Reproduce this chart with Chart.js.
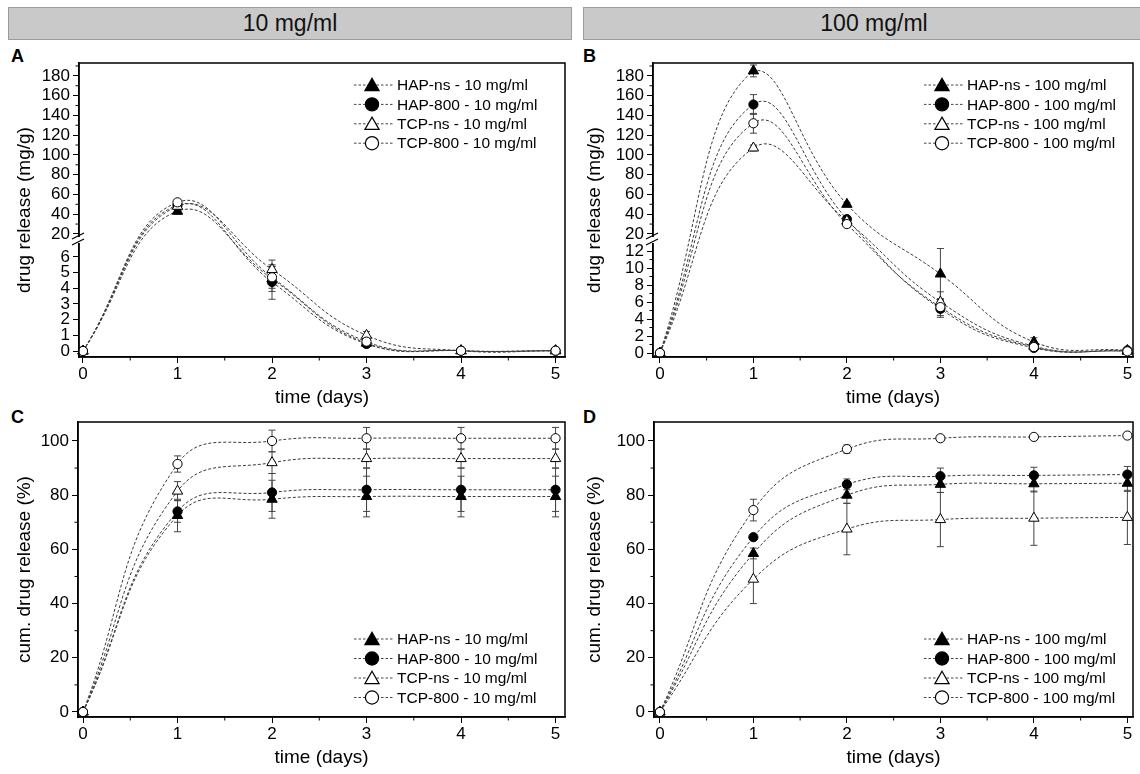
<!DOCTYPE html>
<html>
<head>
<meta charset="utf-8">
<script src="https://cdn.jsdelivr.net/npm/chart.js@4.4.0/dist/chart.umd.min.js"></script>
<style>
  body { margin: 0; background: #fff; width: 1140px; height: 774px; position: relative; overflow: hidden;
         font-family: "Liberation Sans", Arial, sans-serif; }
  .hdr { position: absolute; top: 7px; height: 31px; background: #c9c9c9; border: 1px solid #9c9c9c;
         font-size: 23px; line-height: 31px; text-align: center; color: #111; }
  .lbl { position: absolute; font-weight: bold; font-size: 18px; color: #000; }
  canvas { position: absolute; }
</style>
</head>
<body>
<div class="hdr" style="left:8px;width:562px">10 mg/ml</div>
<div class="hdr" style="left:583px;width:580px">100 mg/ml</div>
<div class="lbl" style="left:11px;top:46px">A</div>
<div class="lbl" style="left:583px;top:46px">B</div>
<div class="lbl" style="left:11px;top:407px">C</div>
<div class="lbl" style="left:583px;top:407px">D</div>
<canvas id="cA" width="575" height="370" style="left:0;top:44px"></canvas>
<canvas id="cB" width="570" height="370" style="left:570px;top:44px"></canvas>
<canvas id="cC" width="575" height="371" style="left:0;top:403px"></canvas>
<canvas id="cD" width="570" height="371" style="left:570px;top:403px"></canvas>
<script>
var days = [0, 1, 2, 3, 4, 5];
var names = ['HAP-ns', 'HAP-800', 'TCP-ns', 'TCP-800'];

// A - drug release, 10 mg/ml (mg/g)
var hapNsA  = [0, 43, 4.6, 0.5, 0.02, 0.02];
var hap800A = [0, 49, 4.4, 0.45, 0.02, 0.02];
var tcpNsA  = [0, 48, 5.2, 1.0, 0.02, 0.02];
var tcp800A = [0, 52, 4.7, 0.6, 0.02, 0.02];
var hapNsAErr  = [0, 3, 0.8, 0.2, 0, 0];
var hap800AErr = [0, 2, 1.1, 0.2, 0, 0];
var tcpNsAErr  = [0, 2, 0.6, 0.25, 0, 0];
var tcp800AErr = [0, 2, 0.7, 0.2, 0, 0];

// B - drug release, 100 mg/ml (mg/g)
var hapNsB  = [0, 185, 50, 9.3, 1.3, 0.3];
var hap800B = [0, 151, 35, 5.2, 0.6, 0.3];
var tcpNsB  = [0, 107, 33, 6.0, 0.8, 0.2];
var tcp800B = [0, 132, 30, 5.4, 0.7, 0.2];
var hapNsBErr  = [0, 6, 2, 3, 0.5, 0.1];
var hap800BErr = [0, 10, 2, 1, 0.3, 0.1];
var tcpNsBErr  = [0, 3, 2, 1.2, 0.3, 0.1];
var tcp800BErr = [0, 10, 2, 1, 0.3, 0.1];

// C - cumulative release, 10 mg/ml (%)
var hapNsC  = [0, 72.5, 78.5, 79.5, 79.5, 79.5];
var hap800C = [0, 74, 81, 82, 82, 82];
var tcpNsC  = [0, 81.5, 92, 93.5, 93.5, 93.5];
var tcp800C = [0, 91.5, 100, 101, 101, 101];
var hapNsCErr  = [0, 6, 7, 7.5, 7.5, 7.5];
var hap800CErr = [0, 4, 7, 8, 8, 8];
var tcpNsCErr  = [0, 3.5, 4, 3.5, 3.5, 3.5];
var tcp800CErr = [0, 3, 4, 4, 4, 4];

// D - cumulative release, 100 mg/ml (%)
var hapNsD  = [0, 58.5, 80, 84, 84.2, 84.4];
var hap800D = [0, 64.5, 84, 87, 87.3, 87.6];
var tcpNsD  = [0, 49, 67.5, 71, 71.5, 71.8];
var tcp800D = [0, 74.5, 97, 101, 101.5, 102];
var hapNsDErr  = [0, 2, 3, 3, 3, 3];
var hap800DErr = [0, 1, 2, 3, 3, 3];
var tcpNsDErr  = [0, 9, 9.5, 10, 10, 10];
var tcp800DErr = [0, 4, 1.5, 1, 0.7, 0.5];

var ticksRelLow10 = [0, 1, 2, 3, 4, 5, 6];
var ticksRelLow100 = [0, 2, 4, 6, 8, 10, 12];
var ticksRelHigh = [20, 40, 60, 80, 100, 120, 140, 160, 180];
var ticksCum = [0, 20, 40, 60, 80, 100];

var shapes = [
  { shape: 'triangle', fill: '#000', r: 6 },
  { shape: 'circle', fill: '#000', r: 4.6 },
  { shape: 'triangle', fill: '#fff', r: 6 },
  { shape: 'circle', fill: '#fff', r: 4.6 }
];

Chart.defaults.font.family = '"Liberation Sans", Arial, sans-serif';
Chart.defaults.color = '#000';

// broken y axis: lower segment and upper segment share the height
var breaks = {
  cA: { lowMin: -0.38, lowMax: 7.08, highMin: 13.9, highMax: 193, frac: 0.398, low: ticksRelLow10, high: ticksRelHigh },
  cB: { lowMin: -0.47, lowMax: 13.3, highMin: 13.9, highMax: 193, frac: 0.398, low: ticksRelLow100, high: ticksRelHigh }
};

class BrokenScale extends Chart.LinearScale {
  determineDataLimits() {
    var b = breaks[this.chart.canvas.id];
    this.min = b.lowMin;
    this.max = b.highMax;
  }
  buildTicks() {
    var b = breaks[this.chart.canvas.id];
    return b.low.concat(b.high).map(function (v) { return { value: v }; });
  }
  splitPixel() {
    var b = breaks[this.chart.canvas.id];
    return this.bottom - (this.bottom - this.top) * b.frac;
  }
  getPixelForValue(v) {
    var b = breaks[this.chart.canvas.id], s = this.splitPixel();
    if (v <= b.lowMax) return this.bottom - (v - b.lowMin) / (b.lowMax - b.lowMin) * (this.bottom - s);
    if (v >= b.highMin) return s - (v - b.highMin) / (b.highMax - b.highMin) * (s - this.top);
    return s;
  }
  getValueForPixel(p) {
    var b = breaks[this.chart.canvas.id], s = this.splitPixel();
    if (p >= s) return b.lowMin + (this.bottom - p) / (this.bottom - s) * (b.lowMax - b.lowMin);
    return b.highMin + (s - p) / (s - this.top) * (b.highMax - b.highMin);
  }
}
BrokenScale.id = 'broken';
BrokenScale.defaults = Chart.LinearScale.defaults;
Chart.register(BrokenScale);

function drawMarker(ctx, shape, fill, x, y, r) {
  ctx.beginPath();
  if (shape === 'triangle') {
    ctx.moveTo(x, y - r);
    ctx.lineTo(x + r * 0.866, y + r * 0.5);
    ctx.lineTo(x - r * 0.866, y + r * 0.5);
    ctx.closePath();
  } else {
    ctx.arc(x, y, r, 0, Math.PI * 2);
  }
  ctx.fillStyle = fill;
  ctx.fill();
  ctx.setLineDash([]);
  ctx.lineWidth = 1.2;
  ctx.strokeStyle = '#000';
  ctx.stroke();
}

function buildPanel(p) {
  var datasets = p.series.map(function (vals, k) {
    return {
      label: names[k] + ' - ' + p.conc,
      data: days.map(function (d, i) { return { x: d, y: vals[i] }; }),
      errors: p.errors[k],
      order: 3 - k, // open circles end up on top
      borderColor: '#3a3a3a',
      borderWidth: 1,
      borderDash: [3, 2],
      tension: 0.45,
      fill: false,
      clip: false,
      pointStyle: shapes[k].shape,
      pointRadius: shapes[k].r,
      pointHoverRadius: shapes[k].r,
      pointBackgroundColor: shapes[k].fill,
      pointBorderColor: '#000',
      pointBorderWidth: 1
    };
  });

  var extras = {
    id: 'extras',
    beforeDatasetsDraw: function (chart) {
      var ctx = chart.ctx, xs = chart.scales.x, ys = chart.scales.y;
      ctx.save();
      ctx.strokeStyle = '#444';
      ctx.lineWidth = 1;
      chart.data.datasets.forEach(function (ds) {
        ds.data.forEach(function (pt, i) {
          var e = ds.errors[i];
          if (!e) return;
          var x = xs.getPixelForValue(pt.x);
          var y1 = ys.getPixelForValue(pt.y - e), y2 = ys.getPixelForValue(pt.y + e);
          ctx.beginPath();
          ctx.moveTo(x, y1); ctx.lineTo(x, y2);
          ctx.moveTo(x - 3.5, y1); ctx.lineTo(x + 3.5, y1);
          ctx.moveTo(x - 3.5, y2); ctx.lineTo(x + 3.5, y2);
          ctx.stroke();
        });
      });
      ctx.restore();
    },
    afterDraw: function (chart) {
      var ctx = chart.ctx, a = chart.chartArea, xs = chart.scales.x, ys = chart.scales.y;
      ctx.save();
      ctx.strokeStyle = '#000';
      ctx.lineWidth = 1.5;
      ctx.strokeRect(a.left, a.top, a.right - a.left, a.bottom - a.top);
      // minor ticks
      ctx.lineWidth = 1;
      ctx.beginPath();
      p.minorX.forEach(function (v) {
        var x = xs.getPixelForValue(v);
        ctx.moveTo(x, a.bottom); ctx.lineTo(x, a.bottom + 3.5);
      });
      p.minorY.forEach(function (v) {
        var y = ys.getPixelForValue(v);
        ctx.moveTo(a.left, y); ctx.lineTo(a.left - 3.5, y);
      });
      ctx.stroke();
      // axis break
      if (breaks[chart.canvas.id]) {
        var s = ys.splitPixel();
        ctx.fillStyle = '#fff';
        ctx.fillRect(a.left - 2, s - 3, 4, 6);
        ctx.lineWidth = 1.2;
        ctx.beginPath();
        ctx.moveTo(a.left - 7, s - 1); ctx.lineTo(a.left + 5, s - 7);
        ctx.moveTo(a.left - 7, s + 5); ctx.lineTo(a.left + 5, s - 1);
        ctx.stroke();
      }
      // legend
      ctx.font = '15.5px "Liberation Sans", Arial, sans-serif';
      ctx.textBaseline = 'middle';
      ctx.textAlign = 'left';
      chart.data.datasets.forEach(function (ds, k) {
        var ly = p.legend.y + k * p.legend.gap, lx = p.legend.x;
        ctx.strokeStyle = '#444';
        ctx.lineWidth = 1;
        ctx.setLineDash([2.5, 2]);
        ctx.beginPath();
        ctx.moveTo(lx - 18, ly); ctx.lineTo(lx + 22, ly);
        ctx.stroke();
        var sh = shapes[k];
        drawMarker(ctx, sh.shape, sh.fill, lx, sh.shape === 'triangle' ? ly + 1.5 : ly, sh.shape === 'triangle' ? 8.2 : 6.6);
        ctx.fillStyle = '#000';
        ctx.fillText(ds.label, lx + 25, ly + 1);
      });
      ctx.restore();
    }
  };

  var yScale = {
    type: p.broken ? 'broken' : 'linear',
    min: p.yMin,
    max: p.yMax,
    afterFit: function (s) { s.width = p.yWidth; },
    afterBuildTicks: function (s) {
      if (!p.broken) s.ticks = p.yTicks.map(function (v) { return { value: v }; });
    },
    border: { display: true, color: '#000', width: 1.5 },
    grid: { display: true, drawOnChartArea: false, drawTicks: true, tickLength: 6, color: '#000', lineWidth: 1 },
    ticks: { font: { size: 17 }, padding: 3, color: '#000', autoSkip: false, callback: function (v) { return String(v); } },
    title: { display: true, text: p.yTitle, font: { size: 19 }, padding: { top: 13 } }
  };

  return new Chart(document.getElementById(p.id), {
    type: 'line',
    data: { datasets: datasets },
    options: {
      responsive: false,
      animation: false,
      events: [],
      layout: { padding: p.pad },
      plugins: { legend: { display: false }, tooltip: { enabled: false } },
      scales: {
        x: {
          type: 'linear',
          min: p.xMin,
          max: p.xMax,
          afterFit: function (s) { s.height = p.xHeight; },
          afterBuildTicks: function (s) { s.ticks = days.map(function (v) { return { value: v }; }); },
          border: { display: true, color: '#000', width: 1.5 },
          grid: { display: true, drawOnChartArea: false, drawTicks: true, tickLength: 6, color: '#000', lineWidth: 1 },
          ticks: { font: { size: 17 }, padding: 1, color: '#000', autoSkip: false, maxRotation: 0, callback: function (v) { return String(v); } },
          title: { display: true, text: 'time (days)', font: { size: 19 }, padding: { bottom: 5 } }
        },
        y: yScale
      }
    },
    plugins: [extras]
  });
}

var minorDays = [0.5, 1.5, 2.5, 3.5, 4.5];

buildPanel({
  id: 'cA', conc: '10 mg/ml', broken: true,
  series: [hapNsA, hap800A, tcpNsA, tcp800A],
  errors: [hapNsAErr, hap800AErr, tcpNsAErr, tcp800AErr],
  yTitle: 'drug release (mg/g)', yWidth: 79, xHeight: 57,
  pad: { left: 0, top: 19, right: 10, bottom: 0 },
  xMin: -0.042, xMax: 5.1,
  minorX: minorDays, minorY: [30, 50, 70, 90, 110, 130, 150, 170, 190],
  legend: { x: 372, y: 41, gap: 19.4 }
});

buildPanel({
  id: 'cB', conc: '100 mg/ml', broken: true,
  series: [hapNsB, hap800B, tcpNsB, tcp800B],
  errors: [hapNsBErr, hap800BErr, tcpNsBErr, tcp800BErr],
  yTitle: 'drug release (mg/g)', yWidth: 83, xHeight: 57,
  pad: { left: 0, top: 19, right: 1, bottom: 0 },
  xMin: -0.074, xMax: 5.06,
  minorX: minorDays, minorY: [1, 3, 5, 7, 9, 11, 30, 50, 70, 90, 110, 130, 150, 170, 190],
  legend: { x: 372, y: 41, gap: 19.4 }
});

buildPanel({
  id: 'cC', conc: '10 mg/ml', broken: false,
  series: [hapNsC, hap800C, tcpNsC, tcp800C],
  errors: [hapNsCErr, hap800CErr, tcpNsCErr, tcp800CErr],
  yTitle: 'cum. drug release (%)', yWidth: 78, xHeight: 57,
  yMin: -1.85, yMax: 107, yTicks: ticksCum,
  pad: { left: 0, top: 19, right: 10, bottom: 0 },
  xMin: -0.053, xMax: 5.1,
  minorX: minorDays, minorY: [10, 30, 50, 70, 90],
  legend: { x: 372, y: 236, gap: 19.5 }
});

buildPanel({
  id: 'cD', conc: '100 mg/ml', broken: false,
  series: [hapNsD, hap800D, tcpNsD, tcp800D],
  errors: [hapNsDErr, hap800DErr, tcpNsDErr, tcp800DErr],
  yTitle: 'cum. drug release (%)', yWidth: 84, xHeight: 57,
  yMin: -1.85, yMax: 107, yTicks: ticksCum,
  pad: { left: 0, top: 19, right: 1, bottom: 0 },
  xMin: -0.063, xMax: 5.06,
  minorX: minorDays, minorY: [10, 30, 50, 70, 90],
  legend: { x: 372, y: 236, gap: 19.5 }
});
</script>
</body>
</html>
